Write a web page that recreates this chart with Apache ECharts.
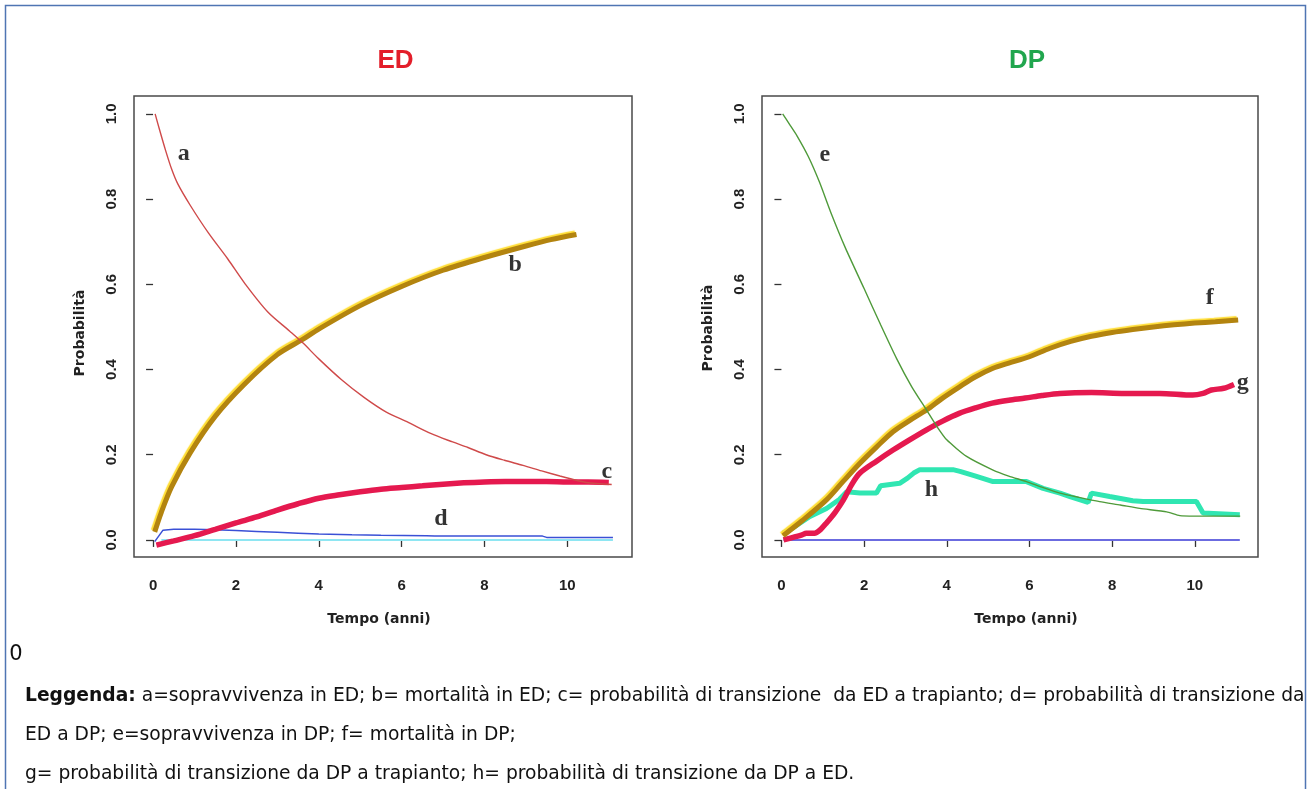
<!DOCTYPE html>
<html><head><meta charset="utf-8">
<script src="https://cdn.jsdelivr.net/npm/echarts@6/dist/echarts.min.js"></script>
<style>html,body{margin:0;padding:0;background:#fff;}#c{width:1309px;height:789px;}</style>
</head><body><div id="c"></div>
<script>
// ---------- data ----------
const xTicks = [0, 2, 4, 6, 8, 10];
const yTicks = [0, 0.2, 0.4, 0.6, 0.8, 1.0];

// ED panel
const curveA = [[0.05,1.0],[0.15,0.965],[0.3,0.915],[0.45,0.87],[0.6,0.835],[0.9,0.785],[1.34,0.72],[1.8,0.66],[2.23,0.60],[2.77,0.535],[3.3,0.49],[3.62,0.462],[4.0,0.425],[4.55,0.376],[5.1,0.334],[5.63,0.30],[6.16,0.276],[6.7,0.25],[7.23,0.23],[7.6,0.217],[8.04,0.20],[8.48,0.187],[8.93,0.175],[9.38,0.162],[9.82,0.15],[10.1,0.143],[10.45,0.135],[11.07,0.13]];
const curveB = [[0.04,0.019],[0.2,0.065],[0.45,0.125],[0.9,0.205],[1.5,0.29],[2.2,0.365],[3.0,0.435],[3.6,0.47],[4.0,0.495],[5.0,0.55],[6.0,0.595],[7.0,0.633],[8.0,0.663],[9.0,0.69],[9.6,0.705],[10.22,0.717]];
const curveC = [[0.08,-0.012],[0.5,-0.002],[1.0,0.01],[1.5,0.025],[2.0,0.04],[2.5,0.054],[3.0,0.07],[3.5,0.085],[4.0,0.098],[4.5,0.106],[5.0,0.113],[5.5,0.119],[6.0,0.123],[6.5,0.127],[7.0,0.131],[7.5,0.134],[8.0,0.136],[8.5,0.137],[9.0,0.137],[9.5,0.137],[10.0,0.136],[10.5,0.136],[11.0,0.135]];
const curveD = [[0.04,-0.004],[0.24,0.023],[0.5,0.025],[1.0,0.025],[1.5,0.024],[2.0,0.022],[2.5,0.02],[3.0,0.018],[3.5,0.016],[4.0,0.014],[4.8,0.012],[5.5,0.011],[6.6,0.01],[6.8,0.009],[9.4,0.009],[9.5,0.006],[11.1,0.006]];
const curveCyanED = [[0.2,0.0],[11.1,0.0]];

// DP panel
const curveE = [[0.03,1.0],[0.2,0.975],[0.38,0.948],[0.65,0.9],[0.92,0.84],[1.19,0.77],[1.55,0.685],[2.0,0.59],[2.4,0.505],[2.79,0.425],[3.15,0.36],[3.51,0.305],[3.75,0.268],[4.0,0.235],[4.48,0.196],[5.12,0.164],[5.5,0.15],[5.93,0.137],[6.3,0.124],[6.74,0.11],[7.2,0.1],[7.7,0.09],[8.2,0.082],[8.67,0.074],[9.32,0.066],[9.64,0.057],[10.0,0.056],[11.1,0.056]];
const curveF = [[0.04,0.01],[0.5,0.045],[1.09,0.094],[1.5,0.138],[1.9,0.18],[2.3,0.218],[2.7,0.254],[3.1,0.28],[3.51,0.305],[3.9,0.333],[4.32,0.36],[4.7,0.383],[5.12,0.403],[5.5,0.415],[6.0,0.43],[6.5,0.45],[7.0,0.466],[7.5,0.478],[8.0,0.487],[8.5,0.494],[9.0,0.5],[9.5,0.505],[10.0,0.509],[10.5,0.512],[11.05,0.516]];
const curveG = [[0.05,0.0],[0.5,0.012],[0.6,0.016],[0.8,0.016],[0.95,0.025],[1.09,0.04],[1.3,0.065],[1.5,0.094],[1.7,0.13],[1.9,0.157],[2.3,0.185],[2.7,0.211],[3.1,0.235],[3.5,0.258],[3.9,0.279],[4.3,0.297],[4.7,0.31],[5.1,0.321],[5.5,0.328],[5.9,0.333],[6.3,0.339],[6.74,0.344],[7.5,0.346],[8.3,0.344],[9.15,0.344],[9.95,0.34],[10.2,0.344],[10.4,0.352],[10.7,0.356],[10.95,0.365]];
const curveH = [[0.04,0.016],[0.3,0.03],[0.69,0.055],[1.09,0.074],[1.4,0.095],[1.58,0.113],[1.9,0.11],[2.3,0.11],[2.4,0.127],[2.86,0.133],[3.05,0.145],[3.2,0.157],[3.35,0.165],[4.15,0.165],[4.32,0.161],[4.7,0.15],[5.12,0.137],[5.93,0.137],[6.33,0.121],[6.74,0.11],[7.0,0.101],[7.42,0.088],[7.5,0.11],[7.94,0.102],[8.5,0.092],[8.75,0.09],[10.04,0.09],[10.2,0.063],[11.09,0.059]];
const curveBlueDP = [[0.05,0.0],[11.09,0.0]];

// curve letters: [letter, t, p]
const lettersED = [['a',0.74,0.906],['b',8.74,0.645],['c',10.95,0.160],['d',6.95,0.049]];
const lettersDP = [['e',1.05,0.904],['f',10.36,0.569],['g',11.16,0.369],['h',3.63,0.117]];

const titleED = 'ED', titleDP = 'DP';
const xName = 'Tempo (anni)', yName = 'Probabilità';
const stray = '0';
const legendBold = 'Leggenda:';
const legend1 = ' a=sopravvivenza in ED; b= mortalità in ED; c= probabilità di transizione  da ED a trapianto; d= probabilità di transizione da';
const legend2 = 'ED a DP; e=sopravvivenza in DP; f= mortalità in DP;';
const legend3 = 'g= probabilità di transizione da DP a trapianto; h= probabilità di transizione da DP a ED.';

// ---------- chart ----------
const AX_FONT = "'Liberation Sans', Arial, sans-serif";
const NAME_FONT = "'DejaVu Sans', sans-serif";
const LEG_FONT = "'DejaVu Sans', sans-serif";

function xAxis(gi, min, max) {
  return {gridIndex: gi, type: 'value', min: min, max: max,
    axisLine: {show: false}, splitLine: {show: false},
    axisTick: {show: true, length: 7, customValues: xTicks, lineStyle: {color: '#333', width: 1.3}},
    axisLabel: {customValues: xTicks, margin: 21, fontFamily: AX_FONT, fontWeight: 'bold', fontSize: 15, color: '#222'}};
}
function yAxis(gi) {
  return {gridIndex: gi, type: 'value', min: -0.04, max: 1.042,
    axisLine: {show: false}, splitLine: {show: false},
    axisTick: {show: true, length: 7, customValues: yTicks, lineStyle: {color: '#333', width: 1.3}},
    axisLabel: {customValues: yTicks, margin: 15, rotate: 90, fontFamily: AX_FONT, fontWeight: 'bold', fontSize: 15, color: '#222',
      formatter: v => v.toFixed(1)}};
}
function line(gi, data, color, width, extra) {
  return Object.assign({type: 'line', xAxisIndex: gi, yAxisIndex: gi, data: data, showSymbol: false, symbol: 'none',
    silent: true, lineStyle: Object.assign({color: color, width: width}, (extra && extra.ls) || {})},
    (extra && extra.s) || {});
}
function letters(gi, arr) {
  return {type: 'scatter', xAxisIndex: gi, yAxisIndex: gi, symbolSize: 0, silent: true,
    data: arr.map(l => ({name: l[0], value: [l[1], l[2]]})),
    label: {show: true, position: 'inside', formatter: '{b}', fontFamily: "'Liberation Serif', serif",
      fontWeight: 'bold', fontSize: 24, color: '#000'}};
}

const goldLS = {shadowColor: '#ffdd33', shadowBlur: 1, shadowOffsetX: -1.5, shadowOffsetY: -1.5};

// legend font fit
const LEG_X = 25, LEG_W = 1277;
const mctx = document.createElement('canvas').getContext('2d');
mctx.font = 'bold 100px ' + LEG_FONT; const wB = mctx.measureText(legendBold).width;
mctx.font = '100px ' + LEG_FONT; const wR = mctx.measureText(legend1).width;
const legSize = Math.round(1000 * LEG_W / (wB + wR)) / 10;

const chart = echarts.init(document.getElementById('c'));
chart.setOption({
  animation: false,
  backgroundColor: '#fff',
  grid: [
    {left: 134, top: 96, width: 498, height: 461, show: true, borderColor: '#4a4a4a', borderWidth: 1.5, backgroundColor: 'transparent'},
    {left: 762, top: 96, width: 496, height: 461, show: true, borderColor: '#4a4a4a', borderWidth: 1.5, backgroundColor: 'transparent'}
  ],
  xAxis: [xAxis(0, -0.46, 11.56), xAxis(1, -0.47, 11.53)],
  yAxis: [yAxis(0), yAxis(1)],
  series: [
    line(0, curveCyanED, '#8ee6f2', 2),
    line(0, curveD, '#3a50d6', 1.5),
    line(0, curveC, '#e5194f', 5.5, {s: {smooth: 0.3}}),
    line(0, curveB, '#b3840f', 5, {ls: goldLS, s: {smooth: 0.3}}),
    line(0, curveA, '#cf4a4a', 1.4, {s: {smooth: 0.3}}),
    letters(0, lettersED),
    line(1, curveBlueDP, '#6b6be0', 2),
    line(1, curveH, '#30e6b2', 5),
    line(1, curveG, '#e5194f', 5.5, {s: {smooth: 0.3}}),
    line(1, curveF, '#b3840f', 5, {ls: goldLS, s: {smooth: 0.3}}),
    line(1, curveE, '#4f9a3a', 1.4, {s: {smooth: 0.2}}),
    letters(1, lettersDP)
  ],
  graphic: [
    {type: 'rect', shape: {x: 5.5, y: 5.5, width: 1300, height: 900}, style: {fill: 'none', stroke: '#4f75b3', lineWidth: 1.5}, silent: true},
    {type: 'text', x: 395.5, y: 61, style: {text: titleED, fill: '#e31e2a', font: "bold 26px 'Liberation Sans', Arial, sans-serif", align: 'center', verticalAlign: 'middle'}},
    {type: 'text', x: 1027, y: 61, style: {text: titleDP, fill: '#21a64e', font: "bold 26px 'Liberation Sans', Arial, sans-serif", align: 'center', verticalAlign: 'middle'}},
    {type: 'text', x: 379, y: 619, style: {text: xName, fill: '#222', font: "bold 14px " + NAME_FONT, align: 'center', verticalAlign: 'middle'}},
    {type: 'text', x: 1026, y: 619, style: {text: xName, fill: '#222', font: "bold 14px " + NAME_FONT, align: 'center', verticalAlign: 'middle'}},
    {type: 'text', x: 80, y: 333, rotation: Math.PI / 2, style: {text: yName, fill: '#222', font: "bold 14px " + NAME_FONT, align: 'center', verticalAlign: 'middle'}},
    {type: 'text', x: 708, y: 328, rotation: Math.PI / 2, style: {text: yName, fill: '#222', font: "bold 14px " + NAME_FONT, align: 'center', verticalAlign: 'middle'}},
    {type: 'text', x: 16, y: 655, style: {text: stray, fill: '#111', font: "21px " + LEG_FONT, align: 'center', verticalAlign: 'middle'}},
    {type: 'text', x: LEG_X, y: 696, style: {text: '{b|' + legendBold + '}' + legend1, fill: '#111', font: legSize + 'px ' + LEG_FONT, verticalAlign: 'middle',
      rich: {b: {fontWeight: 'bold', fontFamily: LEG_FONT, fontSize: legSize, fill: '#111'}}}},
    {type: 'text', x: LEG_X, y: 735, style: {text: legend2, fill: '#111', font: legSize + 'px ' + LEG_FONT, verticalAlign: 'middle'}},
    {type: 'text', x: LEG_X, y: 774, style: {text: legend3, fill: '#111', font: legSize + 'px ' + LEG_FONT, verticalAlign: 'middle'}}
  ]
});
</script></body></html>
